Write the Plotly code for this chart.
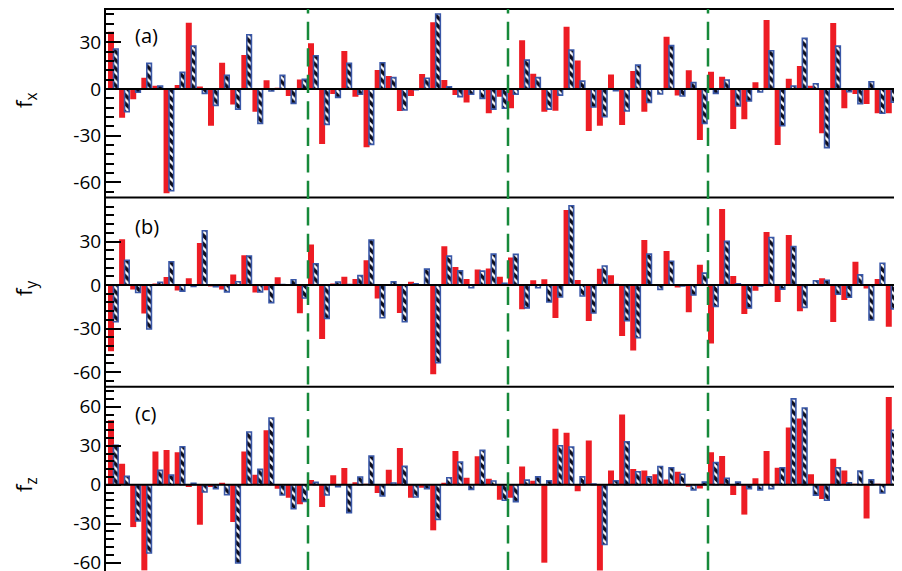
import plotly.graph_objects as go

# ---------------- data ----------------
fx_red = [36.9, -18.4, -6.6, 7.3, 2.1, -67.0, 2.6, 42.6, 1.7, -23.6, 16.9, -9.9, 21.9, -14.6, 5.6, 0.9, -4.5, 6.2,
          29.4, -35.4, -3.2, 24.4, -4.9, -37.5, 12.2, 8.4, -14.1, -4.5, 9.6, 42.9, 5.8, -3.9, -8.6, 0.5, -15.6, -4.9,
          -12.4, 31.3, 9.9, -14.6, -13.9, 40.1, 18.4, -27.0, -23.6, 9.4, -23.1, 11.6, -14.6, 0.5, 33.6, -4.1, 12.0, -32.8,
          11.1, 7.9, -25.7, -19.5, 4.3, 44.4, -36.0, 6.6, 14.8, 2.1, -28.5, 42.4, -12.4, -3.2, -9.6, -15.6, -15.6, 20.4]
fx_blue = [25.7, -14.6, -2.1, 16.5, 1.9, -65.4, 10.7, 27.6, -2.8, -10.5, 8.8, -12.9, 34.9, -22.1, -1.3, 8.8, -9.2, 6.2,
           21.4, -22.7, -5.4, 16.5, -3.4, -35.6, 16.9, 7.3, -13.5, -0.5, 6.9, 48.2, 1.5, -4.9, -3.4, -6.0, -12.9, -12.4,
           -3.4, 18.6, 7.3, -12.9, -3.9, 25.1, 5.1, -11.6, -17.8, -1.1, -14.1, 15.4, -8.6, -3.2, 27.9, -4.5, 4.1, -22.1,
           -2.8, 5.8, -10.9, -7.7, -1.9, 24.6, -23.6, 1.9, 32.6, 3.4, -37.7, 27.6, -1.7, -9.4, 4.7, -15.6, -8.4, 5.0]

fy_red = [-45.5, 31.6, -3.0, -19.6, 0.9, 5.6, -3.7, 4.7, 28.9, -0.9, -3.0, 7.2, 20.6, -5.1, -3.5, 5.4, 0.3, -19.4,
          28.0, -37.2, 0.7, 5.8, 4.2, 17.1, -9.3, 0.3, -19.2, 2.3, 0.3, -61.5, 26.8, 12.4, 4.2, 10.7, 11.4, 5.8,
          18.9, -16.6, 3.3, 4.0, -22.7, 51.7, 3.5, -24.8, 11.2, 6.8, -35.1, -45.0, 31.0, 0.3, 23.4, -1.6, -18.7, 14.0,
          -40.2, 52.4, 6.3, -19.9, -4.0, 36.5, -11.7, 34.4, -18.0, 0.3, 4.7, -25.4, -10.3, 16.1, -2.3, 4.2, -28.7, 23.0]
fy_blue = [-25.3, 17.1, -5.1, -30.3, 1.9, 16.1, -4.2, -0.9, 37.4, -1.2, -4.7, 2.3, 20.0, -4.7, -12.1, 0.3, 3.7, -8.9,
           14.7, -23.0, 2.1, 0.3, 6.5, 31.0, -22.5, 2.3, -25.3, 0.9, 11.0, -53.5, 19.9, 9.8, -1.9, 9.6, 21.3, 1.2,
           21.1, -15.7, -1.9, -11.7, -8.2, 54.6, -7.5, -19.2, 13.1, 0.3, -24.6, -36.3, 21.3, -3.0, 16.4, -0.7, -6.8, 8.2,
           -14.7, 30.1, 0.9, -15.7, -0.7, 32.8, -2.8, 26.6, -15.4, 3.0, 3.3, -6.3, -8.4, 7.0, -24.1, 15.0, -16.4, 5.0]

fz_red = [49.5, 16.2, -32.6, -65.9, 25.6, 26.7, 24.9, -1.8, -30.8, -1.8, 0.8, -28.7, 25.6, 7.7, 41.8, -3.1, -10.0, -15.1,
          3.6, -17.2, 7.2, 12.8, 1.8, 0.3, -6.4, 11.5, 28.2, -10.0, -2.3, -35.1, 0.8, 25.9, 5.4, 21.8, 4.6, -11.5,
          -10.0, 14.0, 3.0, -60.0, 43.0, 40.0, -5.0, 34.0, -66.0, 11.0, 54.0, 12.0, 11.0, 8.0, 4.0, 10.0, -1.0, -3.0,
          25.0, 22.0, -8.0, -23.0, 5.0, 26.0, 13.0, 44.0, 51.0, 8.0, -11.0, 20.0, 11.0, 0.3, -26.0, 0.3, 67.4, 3.3]
fz_blue = [30.3, 6.4, -27.9, -52.6, 11.0, 7.4, 29.2, 1.0, -5.6, -3.1, -7.7, -60.3, 40.5, 11.8, 51.3, -7.9, -18.5, -12.8,
           1.8, -7.9, -1.5, -21.5, 5.9, 22.1, -8.7, 1.3, 14.1, -9.5, -3.1, -26.7, 5.4, 17.4, -3.6, 26.4, 2.8, -12.0,
           -13.0, 3.5, 6.0, 3.0, 30.0, 29.0, 6.0, 0.5, -46.0, 3.0, 33.0, 10.0, 6.0, 14.0, 13.0, 8.0, -4.0, 2.0,
           17.0, 5.0, 2.0, -3.0, -4.0, -3.0, 13.0, 66.0, 59.0, -8.0, -12.0, 13.0, 1.5, 10.5, 3.8, -6.4, 41.8, 5.0]

categories = list(range(len(fx_red)))
panel_labels = ["(a)", "(b)", "(c)"]
axis_titles = ["f<sub>x</sub>", "f<sub>y</sub>", "f<sub>z</sub>"]
tick_values = [[-60, -30, 0, 30], [-60, -30, 0, 30], [-60, -30, 0, 30, 60]]
section_bounds = [17.5, 35.5, 53.5]

# ---------------- styling ----------------
RED = "#ed1c24"
BLUE_EDGE = "#3a58a8"
HATCH = "#0c0c1c"
GREEN = "#16893a"
FONT = "Open Sans"

# The page body has an 8px default margin, so the figure is drawn 8px lower/right
# than the screen. Work in screen coordinates and shift.
OFF = 8
SW, SH = 902, 571          # screen size
W, H = SW - OFF, SH - OFF  # figure size
AXIS_X = 106               # screen x of the left axis
TOP_Y = 8                  # screen y of the top border
ML = AXIS_X - OFF
MT = TOP_Y - OFF
PW = W - ML
PH = H - MT


def py(sy):
    """screen y -> paper y"""
    return (H - (sy - OFF)) / PH


def px(sx):
    """screen x -> paper x"""
    return (sx - OFF - ML) / PW


domains = [[py(197.5), 1.0], [py(386.7), py(197.5)], [0.0, py(386.7)]]
yranges = [[-69.75, 52.1], [-70.0, 60.3], [-66.4, 75.4]]
xrange_ = [-0.68, 70.96]

fig = go.Figure()
series = [(fx_red, fx_blue), (fy_red, fy_blue), (fz_red, fz_blue)]
for k, (r, b) in enumerate(series):
    xa = "x" if k == 0 else f"x{k+1}"
    ya = "y" if k == 0 else f"y{k+1}"
    fig.add_trace(go.Bar(x=categories, y=r, xaxis=xa, yaxis=ya, offset=-0.5, width=0.54,
                         marker=dict(color=RED, line=dict(width=0)), showlegend=False))
    fig.add_trace(go.Bar(x=categories, y=b, xaxis=xa, yaxis=ya, offset=-0.01, width=0.42,
                         marker=dict(color="white", line=dict(color=BLUE_EDGE, width=1.6),
                                     pattern=dict(shape="\\", fgcolor=HATCH, bgcolor="white",
                                                  size=6, solidity=0.6, fgopacity=1)),
                         showlegend=False))

layout = dict(width=W, height=H, margin=dict(l=ML, r=0, t=MT, b=0, pad=0, autoexpand=False),
              paper_bgcolor="white", plot_bgcolor="white", barmode="overlay",
              font=dict(family=FONT, color="black"), showlegend=False)

for k in range(3):
    xs = "xaxis" if k == 0 else f"xaxis{k+1}"
    ys = "yaxis" if k == 0 else f"yaxis{k+1}"
    ya = "y" if k == 0 else f"y{k+1}"
    layout[xs] = dict(domain=[0, 1], anchor=ya, range=xrange_, showticklabels=False, ticks="",
                      showline=False, showgrid=False, zeroline=False, fixedrange=True, automargin=False)
    layout[ys] = dict(domain=domains[k], anchor="x" if k == 0 else f"x{k+1}", range=yranges[k],
                      tickmode="array", tickvals=tick_values[k],
                      ticktext=[str(v) for v in tick_values[k]],
                      ticks="inside", ticklen=15, tickwidth=2, tickcolor="black",
                      minor=dict(tickmode="linear", tick0=0, dtick=6, ticks="inside", ticklen=8,
                                 tickwidth=2, tickcolor="black", showgrid=False),
                      showline=True, linewidth=2, linecolor="black", showgrid=False, zeroline=False,
                      layer="above traces", tickfont=dict(size=19, family=FONT, color="black"),
                      ticklabelstandoff=-1, ticklabeloverflow="allow", automargin=False)

shapes = []
# zero lines
for k in range(3):
    ya = "y" if k == 0 else f"y{k+1}"
    shapes.append(dict(type="line", xref="paper", yref=ya, x0=0, x1=1, y0=0, y1=0,
                       line=dict(color="black", width=2), layer="above"))
# panel borders
for yb in [py(TOP_Y + 1), domains[0][0], domains[1][0]]:
    shapes.append(dict(type="line", xref="paper", yref="paper", x0=0, x1=1, y0=yb, y1=yb,
                       line=dict(color="black", width=2), layer="above"))
# dashed section separators
for xb in section_bounds:
    shapes.append(dict(type="line", xref="x", yref="paper", x0=xb, x1=xb, y0=py(570), y1=py(TOP_Y + 1),
                       line=dict(color=GREEN, width=2.5, dash="18.3px,8.2px"), layer="above"))
layout["shapes"] = shapes

annotations = []
label_y = [35, 226, 413]
title_y = [101, 289, 485]
for k in range(3):
    annotations.append(dict(text=panel_labels[k], xref="paper", yref="paper",
                            x=px(133), y=py(label_y[k]), xanchor="left", yanchor="middle",
                            showarrow=False, font=dict(size=20, family=FONT, color="black")))
    annotations.append(dict(text=axis_titles[k], xref="paper", yref="paper",
                            x=px(25), y=py(title_y[k]), xanchor="center", yanchor="middle",
                            textangle=-90, showarrow=False, font=dict(size=22, family=FONT, color="black")))
layout["annotations"] = annotations

fig.update_layout(**layout)
fig.write_html("out.html")
